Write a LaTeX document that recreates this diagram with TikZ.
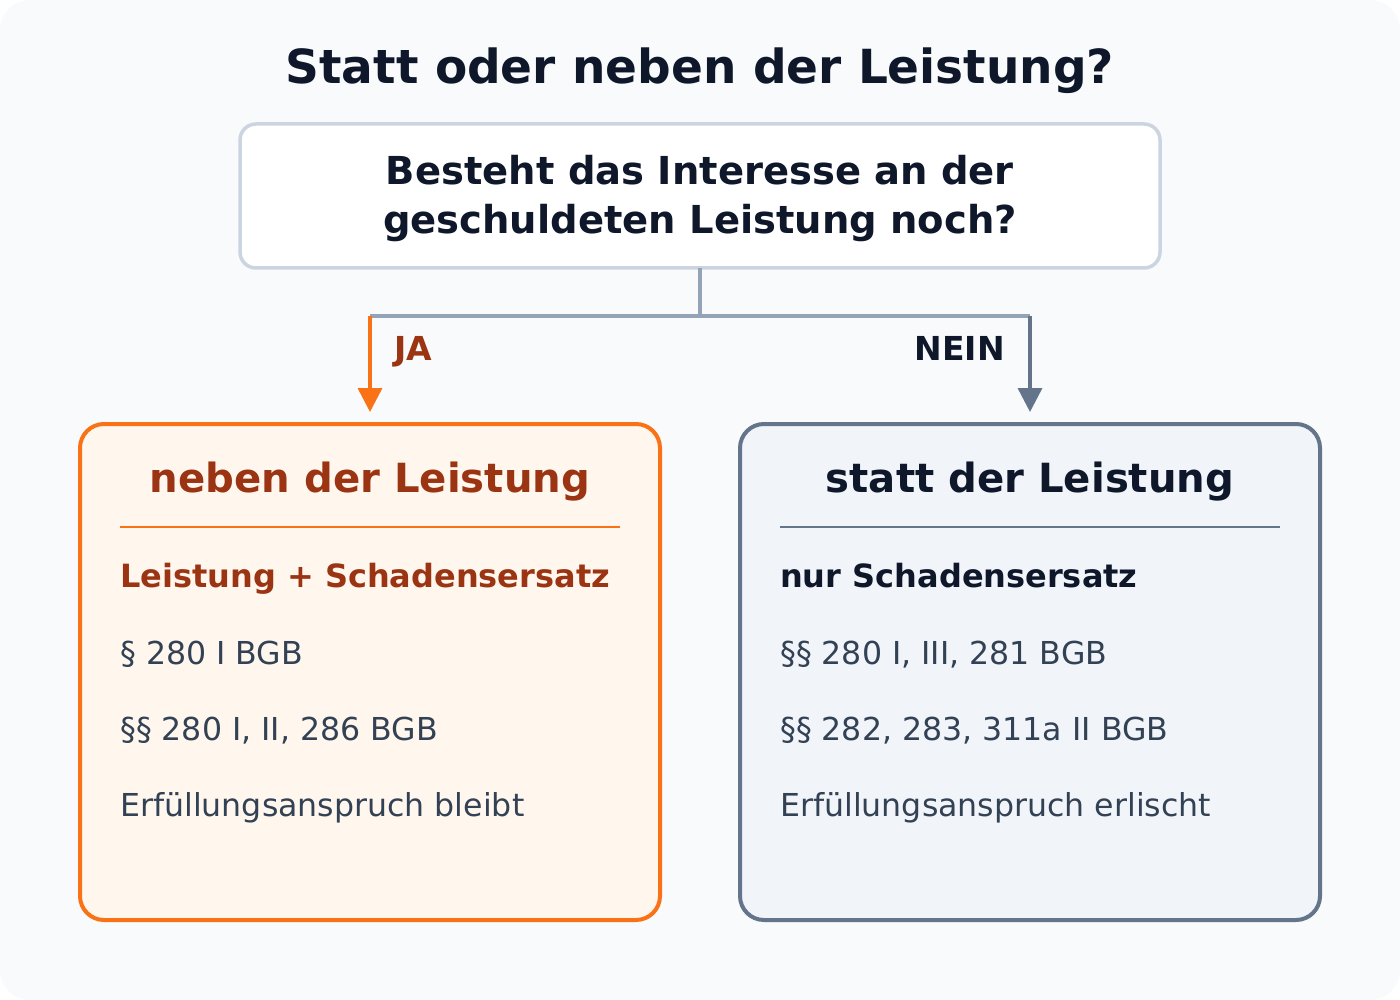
\documentclass[tikz,border=0pt]{standalone}
\usepackage{fontspec}
\setmainfont{DejaVu Sans}
\usetikzlibrary{arrows.meta}
\definecolor{bgc}{HTML}{F8FAFC}
\definecolor{ink}{HTML}{0F172A}
\definecolor{qstroke}{HTML}{CBD5E1}
\definecolor{conn}{HTML}{94A3B8}
\definecolor{orng}{HTML}{F97316}
\definecolor{dorng}{HTML}{9A3412}
\definecolor{lfill}{HTML}{FFF7ED}
\definecolor{slate}{HTML}{64748B}
\definecolor{rfill}{HTML}{F1F5F9}
\definecolor{body}{HTML}{334155}
\tikzset{
  box/.style={rounded corners=24pt, line width=4pt, minimum width=580pt, minimum height=496pt, inner sep=0pt, outer sep=0pt},
  ttl/.style={font=\fontsize{47}{56}\selectfont\bfseries, text=ink, inner sep=0pt},
  qtxt/.style={font=\fontsize{38.5}{46}\selectfont\bfseries, text=ink, inner sep=0pt, anchor=base},
  sect/.style={font=\fontsize{40.2}{48}\selectfont\bfseries, inner sep=0pt, anchor=base},
  sub/.style={font=\fontsize{32}{38}\selectfont\bfseries, inner sep=0pt, anchor=base west},
  txt/.style={font=\fontsize{31.6}{38}\selectfont, text=body, inner sep=0pt, anchor=base west},
  lbl/.style={font=\fontsize{33}{38}\selectfont\bfseries, inner sep=0pt},
  sep/.style={line width=2pt},
  arr/.style={line width=3.5pt, -{Triangle[length=24pt,width=24pt]}}
}
\begin{document}
\begin{tikzpicture}[x=1pt,y=-1pt]
\useasboundingbox (0,0) rectangle (1400,1000);
\fill[bgc, rounded corners=30pt] (0,0) rectangle (1400,1000);
\node[ttl, anchor=base] (title) at (700,84) {Statt oder neben der Leistung?};
% question box
\node[draw=qstroke, fill=white, line width=3.5pt, rounded corners=16pt, minimum width=920pt, minimum height=144pt, inner sep=0pt, outer sep=0pt] (q) at (700,196) {};
\node[qtxt] (qa) at (700,185) {Besteht das Interesse an der};
\node[qtxt] (qb) at (700,234) {geschuldeten Leistung noch?};
% result boxes
\node[box, draw=orng, fill=lfill] (L) at (370,672) {};
\node[box, draw=slate, fill=rfill] (R) at (1030,672) {};
% connectors
\coordinate (j) at (700,316);
\coordinate (jl) at (370,316);
\coordinate (jr) at (1030,316);
\draw[conn, line width=3.5pt] (q.south) -- (j);
\draw[conn, line width=3.5pt] (jl) -- (jr);
\draw[arr, orng] (jl) -- ([yshift=12pt]L.north);
\draw[arr, slate] (jr) -- ([yshift=12pt]R.north);
\node[lbl, text=dorng, anchor=base west] (ja) at (394,360) {JA};
\node[lbl, text=ink, anchor=base east] (nein) at (1005,360) {NEIN};
% left content
\node[sect, text=dorng] (lt) at (370,492) {neben der Leistung};
\coordinate (ls1) at (120,527);
\coordinate (ls2) at (620,527);
\draw[sep, orng] (ls1) -- (ls2);
\node[sub, text=dorng] (l1) at (120,587) {Leistung + Schadensersatz};
\node[txt] (l2) at (120,664) {§ 280 I BGB};
\node[txt] (l3) at (120,740) {§§ 280 I, II, 286 BGB};
\node[txt] (l4) at (120,816) {Erfüllungsanspruch bleibt};
% right content
\node[sect, text=ink] (rt) at (1030,492) {statt der Leistung};
\coordinate (rs1) at (780,527);
\coordinate (rs2) at (1280,527);
\draw[sep, slate] (rs1) -- (rs2);
\node[sub, text=ink] (r1) at (780,587) {nur Schadensersatz};
\node[txt] (r2) at (780,664) {§§ 280 I, III, 281 BGB};
\node[txt] (r3) at (780,740) {§§ 282, 283, 311a II BGB};
\node[txt] (r4) at (780,816) {Erfüllungsanspruch erlischt};
\end{tikzpicture}
\end{document}
